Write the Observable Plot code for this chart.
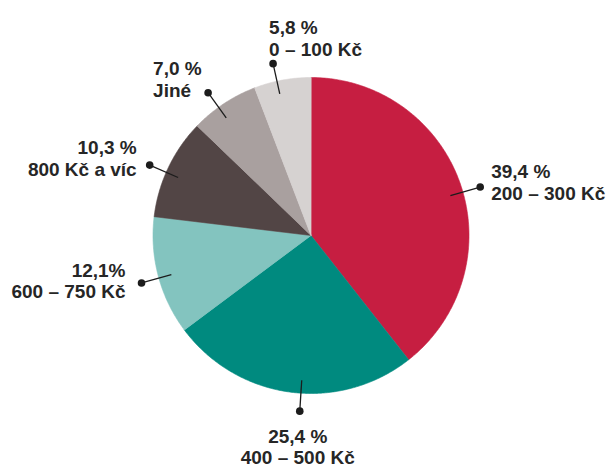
<!DOCTYPE html>
<html><head><meta charset="utf-8">
<script src="https://cdn.jsdelivr.net/npm/d3@7"></script>
<script src="https://cdn.jsdelivr.net/npm/@observablehq/plot@0.6"></script>
<style>body{margin:0;background:#fff} #chart{width:611px;height:467px}</style>
</head><body><div id="chart"></div>
<script>
// ---- data ----
const categories = ["200 – 300 Kč", "400 – 500 Kč", "600 – 750 Kč", "800 Kč a víc", "Jiné", "0 – 100 Kč"];
const shares = [39.4, 25.4, 12.1, 10.3, 7.0, 5.8];
const shareLabels = ["39,4 %", "25,4 %", "12,1%", "10,3 %", "7,0 %", "5,8 %"];
const colors = ["#C61E41", "#008A7F", "#83C4BF", "#524545", "#A9A09F", "#D6D2D1"];

// ---- label placement (layout only) ----
const leaderNudgeDeg = [3.1, -3.9, -0.7, -1.8, -2.3, -2.0];   // leader angle vs slice middle
const labelAnchor = ["start", "middle", "end", "end", "start", "start"];
const labelDx = [11, -2, -16, -13, -55, -4];
const labelDy = [-25, 17, -21, -27, -33, -46];
const labelLineHeight = [22, 21, 21, 22, 22, 22.5];

const W = 611, H = 467, cx = 310.5, cy = 235, R = 158, r1 = 145, r2 = 176;
const arcs = d3.pie().sort(null).value(d => d)(shares);

const rows = arcs.map((a, i) => {
  const mid = (a.startAngle + a.endAngle) / 2 + leaderNudgeDeg[i] * Math.PI / 180;
  return {
    i, category: categories[i], share: shares[i], label: shareLabels[i] + "\n" + categories[i],
    color: colors[i], a0: a.startAngle, a1: a.endAngle, mid,
    x1: r1 * Math.sin(mid), y1: r1 * Math.cos(mid),
    x2: r2 * Math.sin(mid), y2: r2 * Math.cos(mid)
  };
});

// slice outlines derived from the pie angles
function slicePoints(d) {
  const pts = [{x: 0, y: 0}];
  const n = Math.max(2, Math.ceil((d.a1 - d.a0) / (Math.PI / 360)));
  for (let k = 0; k <= n; k++) {
    const t = d.a0 + (d.a1 - d.a0) * k / n;
    pts.push({x: R * Math.sin(t), y: R * Math.cos(t)});
  }
  return pts;
}

const marks = [];
rows.forEach(d => {
  marks.push(Plot.line(slicePoints(d), {x: "x", y: "y", curve: "linear-closed", fill: d.color, stroke: d.color, strokeWidth: 0.6}));
});
marks.push(Plot.link(rows, {x1: "x1", y1: "y1", x2: "x2", y2: "y2", stroke: "#1c1c1c", strokeWidth: 1.3}));
marks.push(Plot.dot(rows, {x: "x2", y: "y2", r: 3.8, fill: "#1c1c1c", stroke: "none"}));
rows.forEach(d => {
  marks.push(Plot.text([d], {
    x: "x2", y: "y2", text: "label",
    textAnchor: labelAnchor[d.i], dx: labelDx[d.i], dy: labelDy[d.i],
    lineAnchor: "top", lineHeight: labelLineHeight[d.i] / 19,
    fontSize: 19, fontWeight: "bold", fill: "#262626",
    fontFamily: "'Liberation Sans', Arial, Helvetica, sans-serif"
  }));
});

const chart = Plot.plot({
  width: W, height: H, margin: 0,
  x: {domain: [-cx, W - cx], axis: null},
  y: {domain: [cy - H, cy], axis: null},
  style: {background: "#fff"},
  marks
});
document.getElementById("chart").append(chart);
</script>
</body></html>
